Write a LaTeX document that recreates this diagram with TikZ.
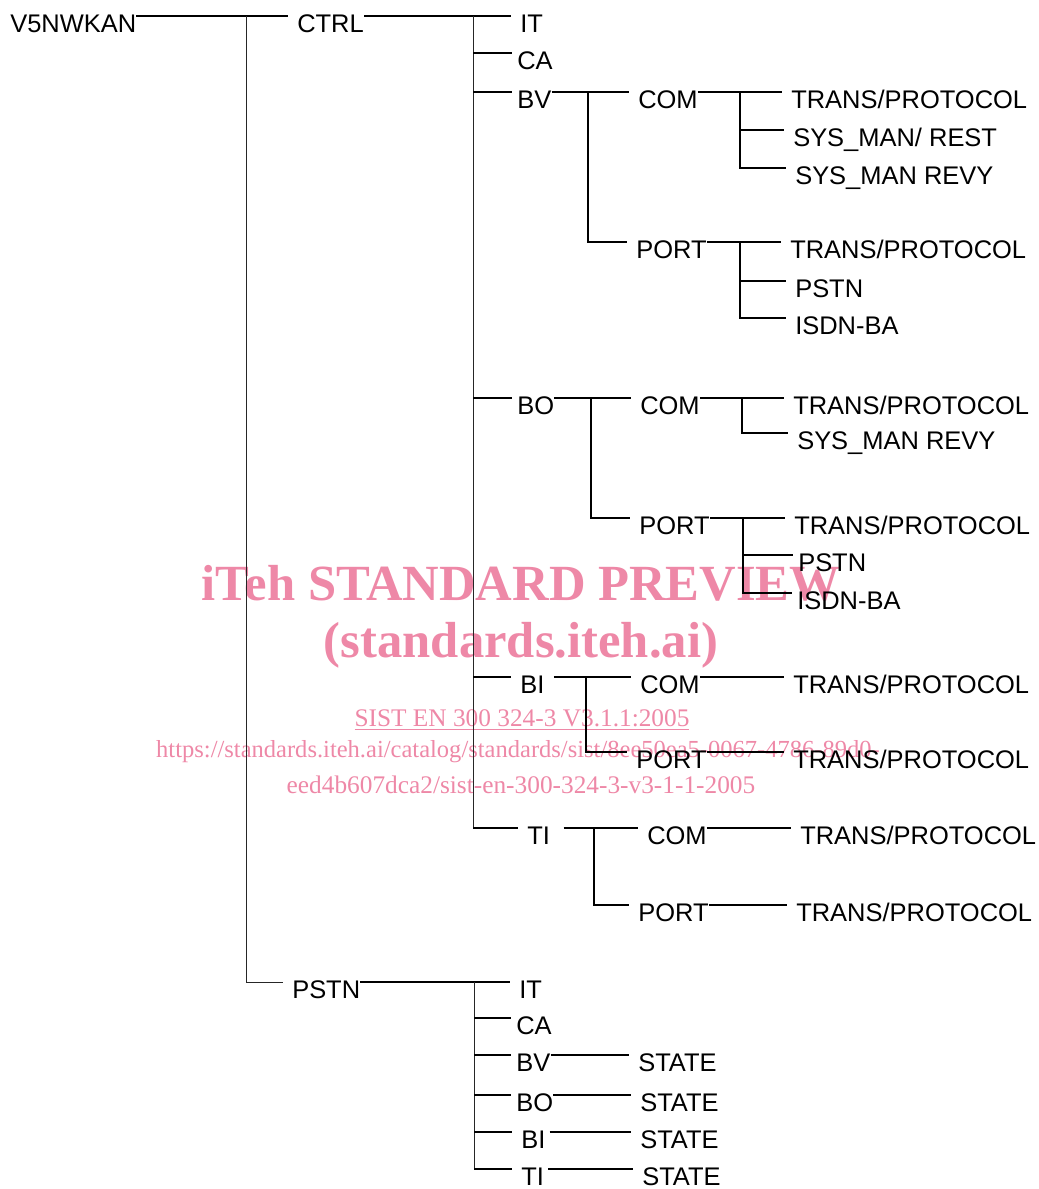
\documentclass[tikz,border=0pt]{standalone}
\usepackage{fontspec}
\setmainfont{Liberation Sans}
\newfontfamily\wmfont{Liberation Serif}
\usepackage{xcolor}
\usepackage{tikz}
\definecolor{wmpink}{RGB}{238,136,167}

\begin{document}
\begin{tikzpicture}[
  x=0.75pt, y=-0.75pt,
  item/.style={anchor=north west, inner sep=0pt, text height=12.2pt, text depth=0pt,
               font=\fontsize{19.1}{23}\selectfont},
  link/.style={line width=1.2pt},
  trunk/.style={line width=0.7pt, black!85},
  wmbig/.style={text=wmpink, inner sep=0pt, font=\wmfont\bfseries\fontsize{38}{40}\selectfont},
  wmsmall/.style={text=wmpink, inner sep=0pt, font=\wmfont\fontsize{19}{21}\selectfont}
]
  \useasboundingbox (0,0) rectangle (1039,1189);

  % watermark, behind the tree
  \node[wmbig]   (wm1) at (521,583) {iTeh STANDARD PREVIEW};
  \node[wmbig]   (wm2) at (521,645) {(standards.iteh.ai)};
  \node[wmsmall] (wm3) at (522,720) {\underline{SIST EN 300 324-3 V3.1.1:2005}};
  \node[wmsmall, font=\wmfont\fontsize{18.4}{21}\selectfont] (wm4) at (518,752)
    {https://standards.iteh.ai/catalog/standards/sist/8ee50ea5-0067-4786-89d0-};
  \node[wmsmall] (wm5) at (521,785) {eed4b607dca2/sist-en-300-324-3-v3-1-1-2005};

  % root and first level
  \node[item] (v5)   at (10,16)   {V5NWKAN};
  \node[item] (ctrl) at (297,16)  {CTRL};
  \node[item] (pstn) at (292,982) {PSTN};

  % CTRL children
  \node[item] (cit) at (520,16)  {IT};
  \node[item] (cca) at (517,53)  {CA};
  \node[item] (cbv) at (517,92)  {BV};
  \node[item] (cbo) at (517,398) {BO};
  \node[item] (cbi) at (520,677) {BI};
  \node[item] (cti) at (527,828) {TI};

  % BV
  \node[item] (bvcom)    at (638,92)  {COM};
  \node[item] (bvport)   at (636,242) {PORT};
  \node[item] (bvcomtp)  at (791,92)  {TRANS/PROTOCOL};
  \node[item] (bvrest)   at (793,130) {SYS\_MAN/ REST};
  \node[item] (bvrevy)   at (795,168) {SYS\_MAN REVY};
  \node[item] (bvporttp) at (790,242) {TRANS/PROTOCOL};
  \node[item] (bvpstn)   at (795,281) {PSTN};
  \node[item] (bvisdn)   at (795,318) {ISDN-BA};

  % BO
  \node[item] (bocom)    at (640,398) {COM};
  \node[item] (boport)   at (639,518) {PORT};
  \node[item] (bocomtp)  at (793,398) {TRANS/PROTOCOL};
  \node[item] (borevy)   at (797,433) {SYS\_MAN REVY};
  \node[item] (boporttp) at (794,518) {TRANS/PROTOCOL};
  \node[item] (bopstn)   at (798,555) {PSTN};
  \node[item] (boisdn)   at (797,593) {ISDN-BA};

  % BI
  \node[item] (bicom)    at (640,677) {COM};
  \node[item] (biport)   at (636,752) {PORT};
  \node[item] (bicomtp)  at (793,677) {TRANS/PROTOCOL};
  \node[item] (biporttp) at (793,752) {TRANS/PROTOCOL};

  % TI
  \node[item] (ticom)    at (647,828) {COM};
  \node[item] (tiport)   at (638,905) {PORT};
  \node[item] (ticomtp)  at (800,828) {TRANS/PROTOCOL};
  \node[item] (tiporttp) at (796,905) {TRANS/PROTOCOL};

  % PSTN children
  \node[item] (pit)   at (519,982)  {IT};
  \node[item] (pca)   at (516,1018) {CA};
  \node[item] (pbv)   at (516,1055) {BV};
  \node[item] (pbo)   at (516,1095) {BO};
  \node[item] (pbi)   at (521,1132) {BI};
  \node[item] (pti)   at (521,1169) {TI};
  \node[item] (pbvst) at (638,1055) {STATE};
  \node[item] (pbost) at (640,1095) {STATE};
  \node[item] (pbist) at (640,1132) {STATE};
  \node[item] (ptist) at (642,1169) {STATE};

  % junctions
  \coordinate (jv5)     at (246,16);
  \coordinate (jctrl)   at (473,16);
  \coordinate (jbv)     at (588,92);
  \coordinate (jbvcom)  at (740,92);
  \coordinate (jbvport) at (740,242);
  \coordinate (jbo)     at (591,398);
  \coordinate (jbocom)  at (742,398);
  \coordinate (jboport) at (743,518);
  \coordinate (jbi)     at (586,677);
  \coordinate (jti)     at (594,828);
  \coordinate (jpstn)   at (474,982);

  % root
  \draw[link] (v5.north east) -- ([xshift=-7pt]ctrl.north west);
  \draw[trunk] (jv5) |- ([xshift=-7pt]pstn.north west);

  % CTRL
  \draw[link] (ctrl.north east) -- ([xshift=-7pt]cit.north west);
  \draw[trunk] (jctrl) -- (jctrl |- cti.north);
  \draw[link] (jctrl |- cca.north) -- ([xshift=-4pt]cca.north west);
  \draw[link] (jctrl |- cbv.north) -- ([xshift=-4pt]cbv.north west);
  \draw[link] (jctrl |- cbo.north) -- ([xshift=-4pt]cbo.north west);
  \draw[link] (jctrl |- cbi.north) -- ([xshift=-7pt]cbi.north west);
  \draw[link] (jctrl |- cti.north) -- ([xshift=-7pt]cti.north west);

  % BV
  \draw[link] (cbv.north east) -- ([xshift=-7pt]bvcom.north west);
  \draw[link] (jbv) |- ([xshift=-7pt]bvport.north west);
  \draw[link] (bvcom.north east) -- ([xshift=-7pt]bvcomtp.north west);
  \draw[link] (jbvcom) |- ([xshift=-7pt]bvrevy.north west);
  \draw[link] (jbvcom |- bvrest.north) -- ([xshift=-7pt]bvrest.north west);
  \draw[link] (bvport.north east) -- ([xshift=-7pt]bvporttp.north west);
  \draw[link] (jbvport) |- ([xshift=-7pt]bvisdn.north west);
  \draw[link] (jbvport |- bvpstn.north) -- ([xshift=-7pt]bvpstn.north west);

  % BO
  \draw[link] (cbo.north east) -- ([xshift=-7pt]bocom.north west);
  \draw[link] (jbo) |- ([xshift=-7pt]boport.north west);
  \draw[link] (bocom.north east) -- ([xshift=-7pt]bocomtp.north west);
  \draw[link] (jbocom) |- ([xshift=-7pt]borevy.north west);
  \draw[link] (boport.north east) -- ([xshift=-7pt]boporttp.north west);
  \draw[link] (jboport) |- ([xshift=-4pt]boisdn.north west);
  \draw[link] (jboport |- bopstn.north) -- ([xshift=-4pt]bopstn.north west);

  % BI
  \draw[link] ([xshift=7pt]cbi.north east) -- ([xshift=-7pt]bicom.north west);
  \draw[link] (jbi) |- ([xshift=-7pt]biport.north west);
  \draw[link] (bicom.north east) -- ([xshift=-7pt]bicomtp.north west);
  \draw[link] (biport.north east) -- ([xshift=-7pt]biporttp.north west);

  % TI
  \draw[link] ([xshift=10pt]cti.north east) -- ([xshift=-7pt]ticom.north west);
  \draw[link] (jti) |- ([xshift=-7pt]tiport.north west);
  \draw[link] (ticom.north east) -- ([xshift=-7pt]ticomtp.north west);
  \draw[link] (tiport.north east) -- ([xshift=-7pt]tiporttp.north west);

  % PSTN
  \draw[link] (pstn.north east) -- ([xshift=-7pt]pit.north west);
  \draw[trunk] (jpstn) -- (jpstn |- pti.north);
  \draw[link] (jpstn |- pca.north) -- ([xshift=-4pt]pca.north west);
  \draw[link] (jpstn |- pbv.north) -- ([xshift=-4pt]pbv.north west);
  \draw[link] (jpstn |- pbo.north) -- ([xshift=-4pt]pbo.north west);
  \draw[link] (jpstn |- pbi.north) -- ([xshift=-7pt]pbi.north west);
  \draw[link] (jpstn |- pti.north) -- ([xshift=-7pt]pti.north west);
  \draw[link] (pbv.north east) -- ([xshift=-7pt]pbvst.north west);
  \draw[link] (pbo.north east) -- ([xshift=-7pt]pbost.north west);
  \draw[link] ([xshift=3pt]pbi.north east) -- ([xshift=-7pt]pbist.north west);
  \draw[link] ([xshift=3pt]pti.north east) -- ([xshift=-7pt]ptist.north west);
\end{tikzpicture}
\end{document}
